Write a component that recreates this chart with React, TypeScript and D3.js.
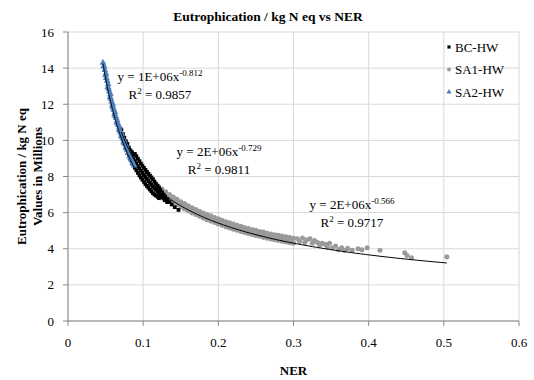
import React from "react";
import * as d3 from "d3";

// NER (x) against eutrophication potential (y, millions of kg N eq)
const SERIES_NAMES = ["BC-HW", "SA1-HW", "SA2-HW"];
const SERIES_COLORS = ["#000000", "#9a9a9a", "#4f81bd"];

const BC_X = [
  0.071, 0.073, 0.073, 0.075, 0.075, 0.077, 0.077, 0.079, 0.079,
  0.081, 0.081, 0.081, 0.083, 0.083, 0.083, 0.085, 0.085, 0.085,
  0.087, 0.087, 0.087, 0.089, 0.089, 0.089, 0.091, 0.091, 0.091,
  0.093, 0.093, 0.093, 0.095, 0.095, 0.095, 0.097, 0.097, 0.097,
  0.099, 0.099, 0.099, 0.101, 0.101, 0.101, 0.103, 0.103, 0.103,
  0.105, 0.105, 0.105, 0.107, 0.107, 0.107, 0.109, 0.109, 0.109,
  0.111, 0.111, 0.111, 0.113, 0.113, 0.113, 0.115, 0.115, 0.115,
  0.117, 0.117, 0.117, 0.119, 0.119, 0.119, 0.121, 0.121, 0.121,
  0.123, 0.123, 0.125, 0.125, 0.127, 0.127, 0.129, 0.129, 0.132,
  0.132, 0.135, 0.138, 0.142, 0.147,
];
const BC_Y = [
  10.6, 10.35, 10.2, 10.15, 9.95, 9.95, 9.7, 9.8, 9.5,
  9.6, 9.35, 9.2, 9.45, 9.2, 9.0, 9.35, 9.1, 8.85,
  9.2, 8.95, 8.7, 9.25, 8.86, 8.48, 9.12, 8.72, 8.34,
  8.98, 8.58, 8.2, 8.85, 8.45, 8.06, 8.72, 8.32, 7.94,
  8.6, 8.2, 7.82, 8.48, 8.08, 7.7, 8.37, 7.97, 7.58,
  8.26, 7.86, 7.48, 8.15, 7.75, 7.38, 8.05, 7.65, 7.28,
  7.95, 7.55, 7.18, 7.85, 7.45, 7.08, 7.72, 7.36, 7.0,
  7.6, 7.27, 6.95, 7.48, 7.18, 6.88, 7.38, 7.09, 6.8,
  7.25, 6.95, 7.12, 6.85, 7.0, 6.78, 6.9, 6.68, 6.75,
  6.58, 6.58, 6.45, 6.3, 6.15,
];

const SA1_X = [
  0.1, 0.1, 0.105, 0.105, 0.11, 0.11, 0.115, 0.115, 0.12, 0.12,
  0.125, 0.125, 0.13, 0.13, 0.135, 0.135, 0.14, 0.14, 0.145, 0.145,
  0.15, 0.15, 0.155, 0.155, 0.16, 0.16, 0.165, 0.165, 0.17, 0.17,
  0.175, 0.175, 0.18, 0.18, 0.185, 0.185, 0.19, 0.19, 0.195, 0.195,
  0.2, 0.2, 0.205, 0.205, 0.21, 0.21, 0.215, 0.215, 0.22, 0.22,
  0.225, 0.225, 0.23, 0.23, 0.235, 0.235, 0.24, 0.24, 0.245, 0.245,
  0.25, 0.25, 0.255, 0.255, 0.26, 0.26, 0.265, 0.265, 0.27, 0.27,
  0.275, 0.275, 0.28, 0.28, 0.285, 0.285, 0.29, 0.29, 0.295, 0.295,
  0.3, 0.3,
  0.1025, 0.1075, 0.1125, 0.1175, 0.1225, 0.1275, 0.1325, 0.1375, 0.1425, 0.1475,
  0.1525, 0.1575, 0.1625, 0.1675, 0.1725, 0.1775, 0.1825, 0.1875, 0.1925, 0.1975,
  0.2025, 0.2075, 0.2125, 0.2175, 0.2225, 0.2275, 0.2325, 0.2375, 0.2425, 0.2475,
  0.2525, 0.2575, 0.2625, 0.2675, 0.2725, 0.2775, 0.2825, 0.2875, 0.2925, 0.2975,
  0.305, 0.308, 0.312, 0.315, 0.318, 0.322, 0.325, 0.328, 0.332, 0.335,
  0.338, 0.342, 0.345, 0.348, 0.352, 0.356, 0.36, 0.364, 0.368, 0.372,
  0.378, 0.386, 0.391, 0.398, 0.415, 0.448, 0.451, 0.457, 0.504,
];
const SA1_Y = [
  8.2, 7.95, 8.05, 7.75, 7.85, 7.55, 7.62, 7.35, 7.48, 7.18,
  7.3, 7.02, 7.15, 6.86, 7.0, 6.72, 6.86, 6.58, 6.74, 6.44,
  6.6, 6.33, 6.5, 6.2, 6.38, 6.1, 6.27, 5.98, 6.17, 5.9,
  6.08, 5.8, 5.98, 5.7, 5.9, 5.6, 5.82, 5.53, 5.73, 5.45,
  5.66, 5.37, 5.58, 5.3, 5.5, 5.22, 5.44, 5.15, 5.37, 5.08,
  5.3, 5.03, 5.25, 4.96, 5.18, 4.9, 5.12, 4.85, 5.07, 4.79,
  5.02, 4.74, 4.96, 4.69, 4.92, 4.63, 4.86, 4.58, 4.82, 4.54,
  4.78, 4.5, 4.74, 4.46, 4.7, 4.42, 4.66, 4.38, 4.62, 4.34,
  4.58, 4.3,
  7.98, 7.76, 7.55, 7.38, 7.2, 7.05, 6.9, 6.76, 6.62, 6.5,
  6.38, 6.26, 6.15, 6.05, 5.95, 5.85, 5.76, 5.67, 5.59, 5.51,
  5.44, 5.36, 5.3, 5.23, 5.17, 5.1, 5.05, 4.99, 4.94, 4.88,
  4.83, 4.79, 4.74, 4.7, 4.66, 4.62, 4.58, 4.54, 4.5, 4.46,
  4.55, 4.4, 4.6, 4.35, 4.5, 4.55, 4.3, 4.45, 4.35, 4.2,
  4.3, 4.25, 4.1, 4.3, 4.05, 4.15, 3.95, 4.05, 3.9, 4.02,
  3.92, 4.0, 3.95, 4.05, 3.92, 3.78, 3.62, 3.5, 3.55,
];

const SA2_X = [
  0.0465, 0.0475, 0.048, 0.049, 0.05, 0.0505, 0.051, 0.052, 0.053, 0.0535,
  0.054, 0.055, 0.056, 0.0565, 0.057, 0.058, 0.059, 0.0595, 0.06, 0.061,
  0.062, 0.0625, 0.063, 0.064, 0.065, 0.0655, 0.066, 0.067, 0.068, 0.0685,
  0.069, 0.07, 0.071, 0.0715, 0.072, 0.073, 0.074, 0.0745, 0.075, 0.076,
  0.077, 0.0775, 0.078, 0.079, 0.08, 0.081, 0.082, 0.083, 0.084, 0.085,
  0.086, 0.087, 0.088,
];
const SA2_Y = [
  14.3, 14.1, 14.1, 13.9, 13.6, 13.7, 13.45, 13.3, 12.95, 13.1,
  12.85, 12.7, 12.4, 12.55, 12.3, 12.15, 11.9, 12.0, 11.8, 11.7,
  11.45, 11.55, 11.35, 11.25, 11.0, 11.1, 10.95, 10.85, 10.6, 10.75,
  10.55, 10.45, 10.25, 10.35, 10.2, 10.1, 9.9, 10.0, 9.85, 9.8,
  9.6, 9.7, 9.55, 9.45, 9.3, 9.3, 9.15, 9.05, 8.95, 8.9,
  8.75, 8.7, 8.6,
];

// Power-law trend lines y = a·x^b (y in kg N eq), with R²
const FIT_COEF = [1.52e6, 2.18e6, 1.18e6];
const FIT_EXP = [-0.729, -0.566, -0.812];
const FIT_R2 = ["0.9811", "0.9717", "0.9857"];

const X_TICKS = [0, 0.1, 0.2, 0.3, 0.4, 0.5, 0.6];
const Y_TICKS = [0, 2, 4, 6, 8, 10, 12, 14, 16];

const W = 534;
const H = 380;
const M = { left: 68, right: 519, top: 32, bottom: 321 };
const FONT = "'Liberation Serif', 'DejaVu Serif', serif";

// Excel-style "2E+06"
function sci(a: number): string {
  let e = Math.floor(Math.log10(a));
  let m = Math.round(a / Math.pow(10, e));
  if (m >= 10) {
    m = 1;
    e += 1;
  }
  return `${m}E+${String(e).padStart(2, "0")}`;
}

export default function App() {
  const x = d3.scaleLinear().domain([0, 0.6]).range([M.left, M.right]);
  const y = d3.scaleLinear().domain([0, 16]).range([M.bottom, M.top]);

  const series = [
    { xs: BC_X, ys: BC_Y },
    { xs: SA1_X, ys: SA1_Y },
    { xs: SA2_X, ys: SA2_Y },
  ];

  const symbols = [
    d3.symbol().type(d3.symbolSquare).size(14),
    d3.symbol().type(d3.symbolCircle).size(20),
    d3.symbol().type(d3.symbolTriangle).size(20),
  ];
  const legendSymbols = [
    d3.symbol().type(d3.symbolSquare).size(10),
    d3.symbol().type(d3.symbolCircle).size(12),
    d3.symbol().type(d3.symbolTriangle).size(12),
  ];
  // gray band underneath, black over it, blue on top
  const drawOrder = [1, 0, 2];

  const line = d3
    .line<[number, number]>()
    .x((d) => x(d[0]))
    .y((d) => y(d[1]));

  const trends = series.map((s, i) => {
    const [lo, hi] = d3.extent(s.xs) as [number, number];
    const pts: [number, number][] = d3.range(0, 101).map((k) => {
      const xv = lo * Math.pow(hi / lo, k / 100);
      return [xv, (FIT_COEF[i] * Math.pow(xv, FIT_EXP[i])) / 1e6];
    });
    return line(pts) || "";
  });

  // equation label anchors (centre x, first baseline y) for BC, SA1, SA2
  const labelPos = [
    [219, 156],
    [352, 209],
    [160, 81],
  ];

  return (
    <svg
      width={W}
      height={H}
      style={{ position: "absolute", left: 0, top: 0, background: "#fff" }}
      fontFamily={FONT}
    >
      {/* gridlines */}
      {Y_TICKS.map((t) => (
        <line key={"gy" + t} x1={M.left} x2={M.right} y1={y(t)} y2={y(t)} stroke="#d9d9d9" />
      ))}
      {X_TICKS.map((t) => (
        <line key={"gx" + t} x1={x(t)} x2={x(t)} y1={M.top} y2={M.bottom} stroke="#d9d9d9" />
      ))}

      {/* axes */}
      <line x1={M.left} x2={M.left} y1={M.top} y2={M.bottom} stroke="#868686" />
      <line x1={M.left} x2={M.right} y1={M.bottom} y2={M.bottom} stroke="#868686" />
      {Y_TICKS.map((t) => (
        <g key={"ty" + t}>
          <line x1={M.left - 5} x2={M.left} y1={y(t)} y2={y(t)} stroke="#868686" />
          <text x={M.left - 14} y={y(t) + 4.5} textAnchor="end" fontSize={13} fill="#000">
            {t}
          </text>
        </g>
      ))}
      {X_TICKS.map((t) => (
        <g key={"tx" + t}>
          <line x1={x(t)} x2={x(t)} y1={M.bottom} y2={M.bottom + 5} stroke="#868686" />
          <text x={x(t)} y={M.bottom + 26} textAnchor="middle" fontSize={13} fill="#000">
            {t}
          </text>
        </g>
      ))}

      {/* points */}
      {drawOrder.map((i) => (
        <g key={"s" + i} fill={SERIES_COLORS[i]}>
          {series[i].xs.map((xv, j) => (
            <path
              key={j}
              d={symbols[i]() || ""}
              transform={`translate(${x(xv)},${y(series[i].ys[j])})`}
            />
          ))}
        </g>
      ))}

      {/* trend lines */}
      {trends.map((d, i) => (
        <path key={"t" + i} d={d} fill="none" stroke="#000" strokeWidth={1} />
      ))}

      {/* trend equations */}
      {labelPos.map(([cx, cy], i) => (
        <g key={"eq" + i} fontSize={13} fill="#000" textAnchor="middle">
          <text x={cx} y={cy}>
            {`y = ${sci(FIT_COEF[i])}x`}
            <tspan dy={-5} fontSize={9}>
              {FIT_EXP[i].toString()}
            </tspan>
          </text>
          <text x={cx} y={cy + 18}>
            R<tspan dy={-5} fontSize={9}>2</tspan>
            <tspan dy={5}>{` = ${FIT_R2[i]}`}</tspan>
          </text>
        </g>
      ))}

      {/* legend */}
      {SERIES_NAMES.map((n, i) => (
        <g key={"lg" + i}>
          <path
            d={legendSymbols[i]() || ""}
            fill={SERIES_COLORS[i]}
            transform={`translate(449,${47 + i * 22.5})`}
          />
          <text x={455} y={47 + i * 22.5 + 4.5} fontSize={13} fill="#000">
            {n}
          </text>
        </g>
      ))}

      {/* titles */}
      <text x={268} y={21} textAnchor="middle" fontSize={13.5} fontWeight="bold">
        Eutrophication / kg N eq vs NER
      </text>
      <text x={(M.left + M.right) / 2} y={375} textAnchor="middle" fontSize={13} fontWeight="bold">
        NER
      </text>
      <text
        transform={`translate(26,${(M.top + M.bottom) / 2}) rotate(-90)`}
        textAnchor="middle"
        fontSize={13}
        fontWeight="bold"
      >
        Eutrophication / kg N eq
      </text>
      <text
        transform={`translate(42,${(M.top + M.bottom) / 2}) rotate(-90)`}
        textAnchor="middle"
        fontSize={13}
        fontWeight="bold"
      >
        Values in Millions
      </text>
    </svg>
  );
}
